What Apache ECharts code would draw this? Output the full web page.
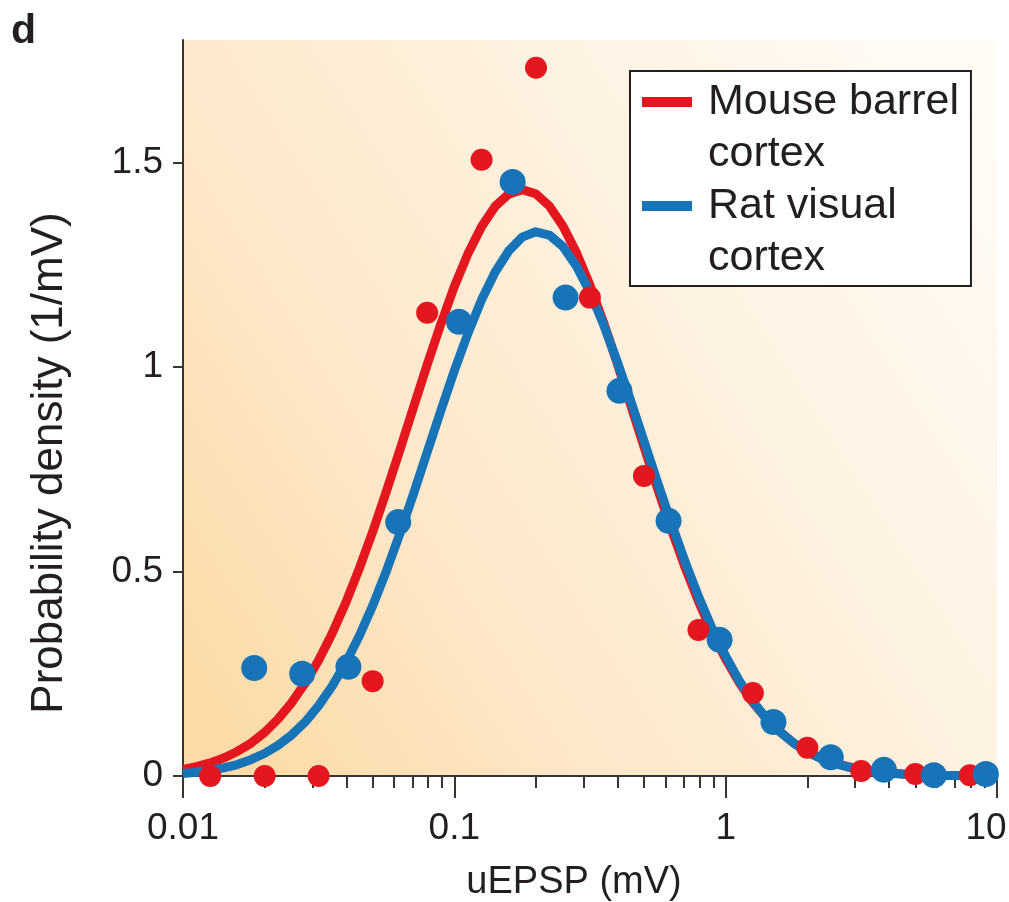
<!DOCTYPE html>
<html>
<head>
<meta charset="utf-8">
<script src="https://cdn.jsdelivr.net/npm/echarts@6/dist/echarts.min.js"></script>
<style>
html, body { margin: 0; padding: 0; background: #ffffff; }
#chart { width: 1009px; height: 902px; }
</style>
</head>
<body>
<div id="chart"></div>
<script>
// ---------- data ----------
const seriesNames = ['Mouse barrel\ncortex', 'Rat visual\ncortex'];

// measured points (uEPSP in mV, probability density in 1/mV)
const redX  = [0.0126, 0.02, 0.0316, 0.05, 0.0794, 0.126, 0.2, 0.316, 0.5, 0.794, 1.26, 2.0, 3.16, 5.0, 7.94];
const redY  = [0, 0, 0, 0.232, 1.133, 1.507, 1.732, 1.170, 0.734, 0.357, 0.203, 0.069, 0.012, 0.005, 0.002];
const blueX = [0.0183, 0.0275, 0.0407, 0.0621, 0.104, 0.164, 0.257, 0.406, 0.616, 0.95, 1.50, 2.44, 3.83, 5.85, 9.1];
const blueY = [0.264, 0.250, 0.267, 0.621, 1.111, 1.453, 1.170, 0.942, 0.624, 0.333, 0.132, 0.046, 0.015, 0.002, 0.005];

// fitted curves
const curveX = [0.01, 0.01122, 0.01259, 0.01413, 0.01585, 0.01778, 0.01995, 0.02239, 0.02512, 0.02818,
                0.03162, 0.03548, 0.03981, 0.04467, 0.05012, 0.05623, 0.0631, 0.07079, 0.07943, 0.08913,
                0.1, 0.1122, 0.1259, 0.1413, 0.1585, 0.1778, 0.1995, 0.2239, 0.2512, 0.2818,
                0.3162, 0.3548, 0.3981, 0.4467, 0.5012, 0.5623, 0.631, 0.7079, 0.7943, 0.8913,
                1, 1.122, 1.259, 1.413, 1.585, 1.778, 1.995, 2.239, 2.512, 2.818,
                3.162, 3.548, 3.981, 4.467, 5.012, 5.623, 6.31, 7.079, 7.943, 8.913, 10];
const redFit = [0.016, 0.023, 0.032, 0.044, 0.060, 0.080, 0.106, 0.139, 0.179, 0.227,
                0.283, 0.349, 0.424, 0.508, 0.599, 0.697, 0.799, 0.903, 1.006, 1.105,
                1.197, 1.277, 1.343, 1.393, 1.423, 1.434, 1.424, 1.394, 1.345, 1.280,
                1.200, 1.109, 1.010, 0.907, 0.803, 0.701, 0.603, 0.511, 0.427, 0.351,
                0.286, 0.229, 0.180, 0.140, 0.108, 0.081, 0.061, 0.044, 0.032, 0.023,
                0.016, 0.011, 0.008, 0.005, 0.003, 0.002, 0.001, 0.001, 0, 0, 0];
const blueFit = [0.006, 0.009, 0.014, 0.020, 0.028, 0.040, 0.055, 0.075, 0.100, 0.132,
                 0.172, 0.220, 0.277, 0.343, 0.418, 0.502, 0.594, 0.691, 0.792, 0.893,
                 0.991, 1.082, 1.164, 1.232, 1.284, 1.318, 1.331, 1.323, 1.295, 1.247,
                 1.183, 1.104, 1.014, 0.918, 0.817, 0.716, 0.618, 0.525, 0.439, 0.361,
                 0.293, 0.233, 0.183, 0.141, 0.108, 0.081, 0.059, 0.043, 0.031, 0.022,
                 0.015, 0.010, 0.007, 0.005, 0.003, 0.002, 0.001, 0.001, 0, 0, 0];

// axis ticks
const xMajorTicks = [0.01, 0.1, 1, 10];
const xTickLabels = ['0.01', '0.1', '1', '10'];
const xMinorTicks = [0.02, 0.03, 0.04, 0.05, 0.06, 0.07, 0.08, 0.09,
                     0.2, 0.3, 0.4, 0.5, 0.6, 0.7, 0.8, 0.9,
                     2, 3, 4, 5, 6, 7, 8, 9];
const yTicks = [0, 0.5, 1, 1.5];
const yTickLabels = ['0', '0.5', '1', '1.5'];

const xTitle = 'uEPSP (mV)';
const yTitle = 'Probability density (1/mV)';
const panelLetter = 'd';

// ---------- chart ----------
const FONT = '"Liberation Sans", Arial, sans-serif';
const TXT = '#231f20';
const RED = '#e4161f';
const BLUE = '#1874b8';
const AXIS = '#3a3530';

const zip = (xs, ys) => xs.map((x, i) => [x, ys[i]]);

const chart = echarts.init(document.getElementById('chart'), null, { renderer: 'canvas' });

const bg = new echarts.graphic.LinearGradient(0, 0.85, 1, 0.15, [
  { offset: 0, color: '#fcdba8' },
  { offset: 0.3, color: '#fde8c9' },
  { offset: 0.65, color: '#fef2e1' },
  { offset: 1, color: '#fffbf5' }
]);

const xAxisBase = {
  type: 'log',
  logBase: 10,
  min: 0.01,
  max: 10,
  position: 'bottom',
  splitLine: { show: false },
  minorTick: { show: false },
  minorSplitLine: { show: false }
};

const option = {
  animation: false,
  backgroundColor: '#ffffff',
  title: {
    text: panelLetter,
    left: 11,
    top: 11,
    padding: 0,
    textStyle: { fontFamily: FONT, fontSize: 41, fontWeight: 'bold', color: TXT }
  },
  grid: {
    left: 183,
    right: 12,
    top: 40,
    bottom: 126,
    containLabel: false,
    outerBoundsMode: 'none',
    show: true,
    backgroundColor: bg,
    borderWidth: 0
  },
  legend: {
    data: seriesNames,
    orient: 'vertical',
    left: 630,
    top: 71,
    padding: [5, 12, 2, 12],
    itemGap: 0,
    itemWidth: 50,
    itemHeight: 62,
    icon: 'path://M0,0H50V10H0ZM0,61.99H50V62H0Z',
    itemStyle: { borderWidth: 0 },
    backgroundColor: '#ffffff',
    borderColor: '#231f20',
    borderWidth: 2,
    borderRadius: 0,
    selectedMode: false,
    textStyle: {
      fontFamily: FONT,
      fontSize: 43,
      lineHeight: 52,
      color: TXT,
      padding: [0, 0, 0, 11]
    }
  },
  xAxis: [
    Object.assign({}, xAxisBase, {
      name: xTitle,
      nameLocation: 'middle',
      nameGap: 88,
      nameTextStyle: { fontFamily: FONT, fontSize: 38, color: TXT, padding: [0, 32, 0, 0] },
      axisLine: { show: true, lineStyle: { color: AXIS, width: 2 } },
      axisTick: { show: true, inside: false, length: 22, customValues: xMajorTicks,
                  lineStyle: { color: AXIS, width: 2 } },
      axisLabel: {
        show: true,
        customValues: xMajorTicks,
        margin: 34,
        fontFamily: FONT,
        fontSize: 37,
        color: TXT,
        formatter: function (v) {
          const i = xMajorTicks.findIndex(t => Math.abs(Math.log10(t) - Math.log10(v)) < 1e-6);
          if (i < 0) return '';
          return i === xMajorTicks.length - 1 ? '{last|' + xTickLabels[i] + '}' : xTickLabels[i];
        },
        rich: {
          last: { fontFamily: FONT, fontSize: 37, color: TXT, padding: [0, 22, 0, 0] }
        }
      }
    }),
    Object.assign({}, xAxisBase, {
      axisLine: { show: false },
      axisLabel: { show: false },
      axisTick: { show: true, inside: false, length: 12, customValues: xMinorTicks,
                  lineStyle: { color: AXIS, width: 2 } }
    })
  ],
  yAxis: {
    type: 'value',
    min: 0,
    max: 1.8,
    splitLine: { show: false },
    axisLine: { show: true, lineStyle: { color: AXIS, width: 2 } },
    axisTick: { show: true, inside: false, length: 10, customValues: yTicks,
                lineStyle: { color: AXIS, width: 2 } },
    axisLabel: {
      show: true,
      customValues: yTicks,
      margin: 20,
      fontFamily: FONT,
      fontSize: 37,
      color: TXT,
      formatter: function (v) {
        const i = yTicks.findIndex(t => Math.abs(t - v) < 1e-6);
        return i >= 0 ? yTickLabels[i] : '';
      }
    }
  },
  graphic: [
    {
      type: 'text',
      x: 50,
      y: 463,
      rotation: Math.PI / 2,
      style: {
        text: yTitle,
        font: '44px ' + FONT,
        fill: TXT,
        align: 'center',
        verticalAlign: 'middle'
      }
    }
  ],
  series: [
    {
      name: seriesNames[0],
      type: 'line',
      xAxisIndex: 0,
      data: zip(curveX, redFit),
      smooth: false,
      symbol: 'none',
      color: RED,
      lineStyle: { color: RED, width: 9, join: 'round' },
      z: 2
    },
    {
      name: seriesNames[1],
      type: 'line',
      xAxisIndex: 0,
      data: zip(curveX, blueFit),
      smooth: false,
      symbol: 'none',
      color: BLUE,
      lineStyle: { color: BLUE, width: 9, join: 'round' },
      z: 3
    },
    {
      name: seriesNames[0],
      type: 'scatter',
      xAxisIndex: 0,
      data: zip(redX, redY),
      symbol: 'circle',
      symbolSize: 22,
      itemStyle: { color: RED, opacity: 1 },
      z: 4
    },
    {
      name: seriesNames[1],
      type: 'scatter',
      xAxisIndex: 0,
      data: zip(blueX, blueY),
      symbol: 'circle',
      symbolSize: 26,
      itemStyle: { color: BLUE, opacity: 1 },
      z: 5
    }
  ]
};

chart.setOption(option);
</script>
</body>
</html>
